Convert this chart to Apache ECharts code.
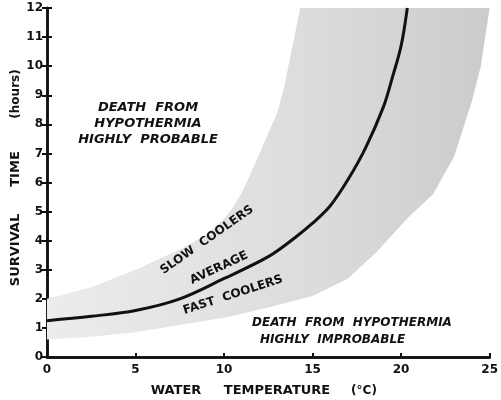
<!DOCTYPE html>
<html>
<head>
<meta charset="utf-8">
<script src="https://cdn.jsdelivr.net/npm/echarts@6/dist/echarts.min.js"></script>
<style>
  html, body { margin: 0; padding: 0; background: #fff; }
  #chart { width: 501px; height: 400px; }
</style>
</head>
<body>
<div id="chart"></div>
<script>
// average cooler curve (water temp °C -> survival hours)
const avgTemp = [0, 2.5, 5, 7.5, 10, 12.5, 14, 15, 16, 17, 18, 19, 19.5, 20, 20.35];
const avgTime = [1.25, 1.4, 1.6, 2.0, 2.7, 3.45, 4.1, 4.6, 5.2, 6.1, 7.2, 8.6, 9.6, 10.7, 12];

// shaded band: slow coolers (upper edge) and fast coolers (lower edge)
const slowTemp = [0, 2.5, 5, 7.5, 9, 10, 10.5, 11, 11.5, 12, 12.5, 13, 13.4, 13.7, 14.0, 14.3];
const slowTime = [2.0, 2.4, 3.0, 3.7, 4.2, 4.75, 5.15, 5.65, 6.3, 7.0, 7.7, 8.4, 9.3, 10.2, 11.1, 12];
const fastTemp = [0, 2.5, 5, 7.5, 10, 12.5, 15, 17, 18.6, 20.4, 21.8, 23, 24, 24.5, 25];
const fastTime = [0.6, 0.7, 0.85, 1.1, 1.35, 1.7, 2.1, 2.7, 3.6, 4.8, 5.6, 6.9, 8.8, 10, 12];

const xTicks = [0, 5, 10, 15, 20, 25];
const yTicks = [0, 1, 2, 3, 4, 5, 6, 7, 8, 9, 10, 11, 12];

const pairs = (xs, ys) => xs.map((x, i) => [x, ys[i]]);

const chart = echarts.init(document.getElementById('chart'));
const ink = '#111';
const font = '"DejaVu Sans", sans-serif';

const axisBase = {
  type: 'value',
  axisLine: { show: true, lineStyle: { color: ink, width: 2.5 } },
  splitLine: { show: false }
};

// helper for the text notes drawn over the plot
function note(x, y, text, size, deg, extra) {
  return {
    type: 'text', x: x, y: y, z: 100,
    rotation: (deg || 0) * Math.PI / 180,
    style: Object.assign({
      text: text, fill: ink, font: 'bold ' + size + 'px ' + font,
      align: 'center', verticalAlign: 'middle'
    }, extra || {})
  };
}

let option = {
  animation: false,
  grid: { left: 47, right: 7, top: 8, bottom: 43 },
  xAxis: [
    Object.assign({}, axisBase, {
      position: 'bottom',
      min: xTicks[0], max: xTicks[xTicks.length - 1], interval: 5,
      axisTick: { show: true, inside: true, length: 4, lineStyle: { color: ink, width: 2 } },
      axisLabel: { color: ink, fontSize: 12, fontWeight: 'bold', fontFamily: font, margin: 7 }
    }),
    Object.assign({}, axisBase, {
      position: 'top',
      min: xTicks[0], max: xTicks[xTicks.length - 1], interval: 5,
      axisTick: { show: false },
      axisLabel: { show: false }
    })
  ],
  yAxis: [
    Object.assign({}, axisBase, {
      position: 'left',
      min: yTicks[0], max: yTicks[yTicks.length - 1], interval: 1,
      axisTick: { show: true, inside: true, length: 5, lineStyle: { color: ink, width: 2 } },
      axisLabel: { color: ink, fontSize: 12, fontWeight: 'bold', fontFamily: font, margin: 4 }
    }),
    Object.assign({}, axisBase, {
      position: 'right',
      min: yTicks[0], max: yTicks[yTicks.length - 1], interval: 1,
      axisTick: { show: true, inside: true, length: 5, lineStyle: { color: ink, width: 2 } },
      axisLabel: { show: false }
    })
  ],
  series: [
    {
      // gray band between slow and fast coolers
      type: 'custom',
      z: 1,
      clip: true,
      data: [[0, 0]],
      renderItem: function (params, api) {
        const top = pairs(slowTemp, slowTime).map(p => api.coord(p));
        const bottom = pairs(fastTemp, fastTime).map(p => api.coord(p)).reverse();
        return {
          type: 'polygon',
          shape: { points: top.concat(bottom) },
          style: {
            fill: new echarts.graphic.LinearGradient(0, 0, 1, 0, [
              { offset: 0, color: '#ececec' },
              { offset: 0.6, color: '#dcdcdc' },
              { offset: 1, color: '#cbcbcb' }
            ], false)
          }
        };
      }
    },
    {
      type: 'line',
      z: 3,
      data: pairs(avgTemp, avgTime),
      smooth: 0.35,
      symbol: 'none',
      lineStyle: { color: ink, width: 3 }
    }
  ],
  graphic: [
    // axis titles
    note(16, 250, 'SURVIVAL', 13, 90),
    note(16, 169, 'TIME', 13, 90),
    note(16, 94, '(hours)', 12, 90),
    note(176, 391, 'WATER', 13),
    note(277, 391, 'TEMPERATURE', 13),
    note(364, 391, '(°C)', 12),
    // region notes
    note(148, 124, 'DEATH  FROM\nHYPOTHERMIA\nHIGHLY  PROBABLE', 13, 0,
      { font: 'italic bold 13px ' + font, lineHeight: 16 }),
    note(252, 323, 'DEATH  FROM  HYPOTHERMIA', 12, 0,
      { font: 'italic bold 12px ' + font, align: 'left' }),
    note(260, 340, 'HIGHLY  IMPROBABLE', 12, 0,
      { font: 'italic bold 12px ' + font, align: 'left' }),
    // curve labels
    note(207, 240, 'SLOW  COOLERS', 12, 35),
    note(219, 268, 'AVERAGE', 12, 25),
    note(233, 295, 'FAST  COOLERS', 12, 18)
  ]
};

chart.setOption(option);
window.addEventListener('resize', function () {
  chart.resize();
});
</script>
</body>
</html>
